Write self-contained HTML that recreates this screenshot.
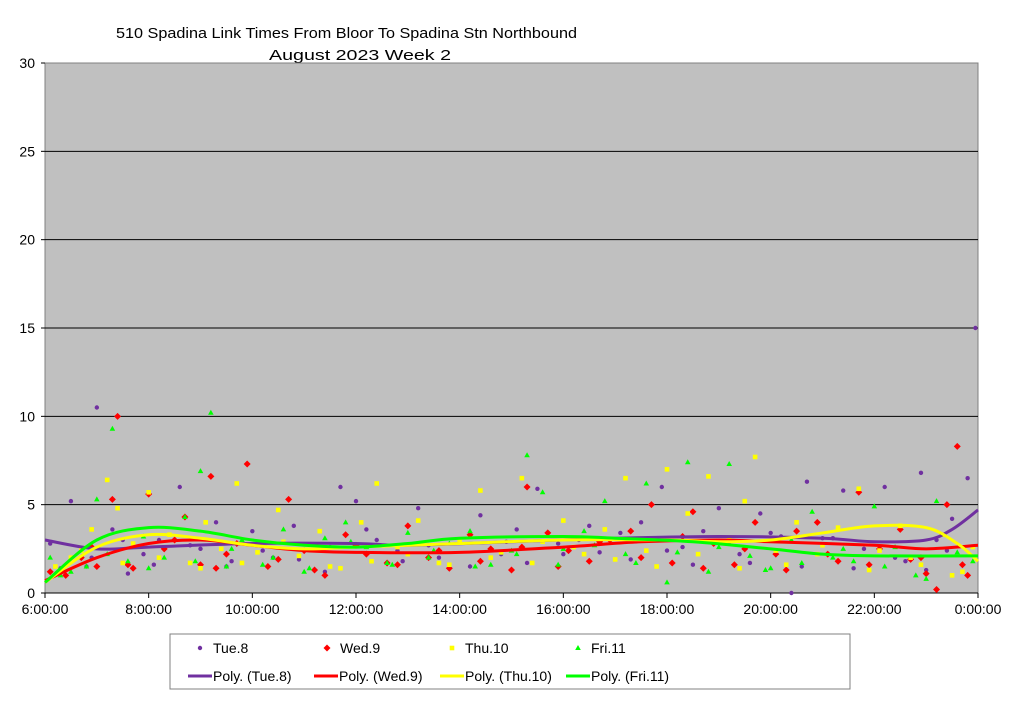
<!DOCTYPE html>
<html><head><meta charset="utf-8"><style>
body{margin:0;background:#fff;width:1024px;height:703px;overflow:hidden;font-family:"Liberation Sans",sans-serif}
svg{display:block}
</style></head><body>
<svg id="chart" width="1024" height="703" viewBox="0 0 1024 703">
<rect x="0" y="0" width="1024" height="703" fill="#fff"/>
<text x="116" y="38" font-size="15" textLength="461" lengthAdjust="spacingAndGlyphs" font-family="Liberation Sans,sans-serif">510 Spadina Link Times From Bloor To Spadina Stn Northbound</text>
<text x="269" y="60" font-size="15" textLength="182" lengthAdjust="spacingAndGlyphs" font-family="Liberation Sans,sans-serif">August 2023  Week 2</text>
<rect x="45" y="63" width="933" height="530" fill="#c0c0c0" stroke="#808080"/>
<g id="grid"></g><g id="axes"></g><g id="points"></g><g id="trends"></g>
<g>
<rect x="170" y="634" width="680" height="55" fill="#fff" stroke="#808080"/>
</g>
<g id="legend"></g>
</svg>
<script>
const yTicks=[0,5,10,15,20,25,30];
const xTicks=[6,8,10,12,14,16,18,20,22,24];
const xTickLabels=["6:00:00","8:00:00","10:00:00","12:00:00","14:00:00","16:00:00","18:00:00","20:00:00","22:00:00","0:00:00"];
const tueT=[6.1,6.5,6.8,7.0,7.3,7.6,7.9,8.2,8.6,9.0,9.3,9.6,10.0,10.4,10.8,11.2,11.5,11.7,12.0,12.4,12.8,13.2,13.6,14.0,14.4,14.8,15.1,15.5,15.9,16.3,16.7,17.1,17.5,17.9,18.3,18.7,19.0,19.4,19.8,20.2,20.4,20.7,21.0,21.4,21.8,22.2,22.6,22.9,23.2,23.5,23.8,23.95,
6.3,6.9,7.5,8.1,8.8,9.5,10.2,10.9,11.4,12.2,12.9,13.4,14.2,14.9,15.3,16.0,16.5,17.3,18.0,18.5,19.2,19.6,20.0,20.6,21.2,21.6,22.4,23.0,23.4];
const tueV=[2.8,5.2,1.5,10.5,3.6,1.1,2.2,3.0,6.0,2.5,4.0,1.8,3.5,2.0,3.8,1.3,2.6,6.0,5.2,3.0,2.4,4.8,2.0,3.0,4.4,2.2,3.6,5.9,2.8,3.0,2.3,3.4,4.0,6.0,2.6,3.5,4.8,2.2,4.5,3.2,0.0,6.3,3.1,5.8,2.5,6.0,1.8,6.8,3.0,4.2,6.5,15.0,
1.4,2.0,3.0,1.6,2.7,1.5,2.4,1.9,1.2,3.6,1.8,2.7,1.5,2.9,1.7,2.2,3.8,1.9,2.4,1.6,2.9,1.7,3.4,1.5,3.1,1.4,2.0,1.3,2.4];
const wedT=[6.1,6.4,6.7,7.0,7.3,7.4,7.7,8.0,8.3,8.7,9.0,9.2,9.5,9.9,10.3,10.7,11.0,11.4,11.8,12.2,12.6,13.0,13.4,13.8,14.2,14.6,15.0,15.3,15.7,16.1,16.5,16.9,17.3,17.7,18.1,18.5,18.9,19.3,19.7,20.1,20.5,20.9,21.3,21.7,22.1,22.5,22.9,23.2,23.4,23.6,23.8,
6.9,7.6,8.5,9.3,9.7,10.5,11.2,12.0,12.8,13.6,14.4,15.2,15.9,16.7,17.5,18.3,18.7,19.5,20.3,21.1,21.9,22.7,23.0,23.7];
const wedV=[1.2,1.0,2.0,1.5,5.3,10.0,1.4,5.6,2.5,4.3,1.6,6.6,2.2,7.3,1.5,5.3,2.4,1.0,3.3,2.2,1.7,3.8,2.0,1.4,3.3,2.5,1.3,6.0,3.4,2.4,1.8,3.0,3.5,5.0,1.7,4.6,2.8,1.6,4.0,2.2,3.5,4.0,1.8,5.7,2.5,3.6,2.0,0.2,5.0,8.3,1.0,
2.6,1.6,3.0,1.4,2.8,1.9,1.3,2.7,1.6,2.4,1.8,2.6,1.5,2.9,2.0,3.2,1.4,2.5,1.3,2.2,1.6,1.9,1.1,1.6];
const thuT=[6.2,6.5,6.9,7.2,7.4,7.7,8.0,8.4,8.8,9.1,9.4,9.7,10.1,10.5,10.9,11.3,11.7,12.1,12.4,12.8,13.2,13.6,14.0,14.4,14.8,15.2,15.6,16.0,16.4,16.8,17.2,17.6,18.0,18.4,18.8,19.2,19.5,19.7,20.1,20.5,20.9,21.3,21.7,22.1,22.5,22.9,23.3,23.7,23.9,
6.7,7.5,8.2,9.0,9.8,10.6,11.5,12.3,13.0,13.8,14.6,15.4,16.2,17.0,17.8,18.6,19.4,20.3,21.0,21.9,22.7,23.5];
const thuV=[1.5,2.0,3.6,6.4,4.8,2.8,5.7,3.3,1.7,4.0,2.5,6.2,2.3,4.7,2.1,3.5,1.4,4.0,6.2,2.6,4.1,1.7,3.0,5.8,2.3,6.5,2.9,4.1,2.2,3.6,6.5,2.4,7.0,4.5,6.6,3.0,5.2,7.7,2.4,4.0,2.2,3.7,5.9,2.4,3.8,1.6,3.3,1.2,2.6,
2.4,1.7,2.0,1.4,1.7,2.9,1.5,1.8,2.2,1.6,2.0,1.7,2.6,1.9,1.5,2.2,1.4,1.6,2.7,1.3,2.0,1.0];
const friT=[6.1,6.5,6.8,7.0,7.3,7.6,7.9,8.3,8.7,9.0,9.2,9.5,9.8,10.2,10.6,11.0,11.4,11.8,12.2,12.6,13.0,13.4,13.8,14.2,14.6,15.0,15.3,15.6,16.0,16.4,16.8,17.2,17.6,18.0,18.4,18.8,19.2,19.6,20.0,20.4,20.8,21.2,21.6,22.0,22.4,22.8,23.2,23.6,23.9,
6.3,7.2,8.0,8.9,9.6,10.4,11.1,11.9,12.7,13.5,14.3,15.1,15.9,16.6,17.4,18.2,19.0,19.9,20.6,21.4,22.2,23.0];
const friV=[2.0,1.2,1.5,5.3,9.3,1.8,3.2,2.0,4.3,6.9,10.2,1.5,3.0,1.6,3.6,1.2,3.1,4.0,2.6,1.7,3.4,2.0,2.8,3.5,1.6,2.4,7.8,5.7,2.5,3.5,5.2,2.2,6.2,0.6,7.4,1.2,7.3,2.1,1.4,3.0,4.6,2.0,1.8,4.9,2.6,1.0,5.2,2.3,1.8,
1.0,2.2,1.4,1.8,2.5,2.0,1.4,2.9,1.6,2.4,1.5,2.2,1.6,2.7,1.7,2.3,2.6,1.3,1.7,2.5,1.5,0.8];
const tueTrendT=[6,7,8,10,12,13,15,17,19,21,22,23,23.5,24];
const tueTrendV=[3.0,2.5,2.6,2.8,2.8,2.7,2.9,3.1,3.2,3.1,2.9,3.0,3.6,4.7];
const wedTrendT=[6,7,8,9,10,11,12,14,16,17.5,19,20,22,23,24];
const wedTrendV=[0.7,2.0,2.8,3.0,2.7,2.4,2.3,2.3,2.6,2.9,3.0,2.9,2.7,2.5,2.7];
const thuTrendT=[6,7,8,9,10,11,12,14,16,18,19,20,21,22,23,23.6,24];
const thuTrendV=[0.6,2.6,3.3,3.1,2.7,2.5,2.6,2.8,3.0,3.0,2.9,3.0,3.4,3.8,3.7,2.8,1.8];
const friTrendT=[6,7,8,9,10,11,12,13,14,16,17,18.5,20,21,22,24];
const friTrendV=[0.6,3.0,3.7,3.5,3.0,2.7,2.6,2.8,3.1,3.2,3.1,2.9,2.5,2.2,2.1,2.1];

const NS="http://www.w3.org/2000/svg";
const X0=45,X1=978,Y0=593,Y1=63;
function xs(h){return X0+(h-6)/18*(X1-X0);}
function ys(v){return Y0-v/30*(Y0-Y1);}
function mk(tag,attrs,parent){const e=document.createElementNS(NS,tag);for(const k in attrs)e.setAttribute(k,attrs[k]);parent.appendChild(e);return e;}
const grid=document.getElementById('grid'),axes=document.getElementById('axes');
yTicks.forEach(v=>{
  if(v>0&&v<30){const l=mk('line',{x1:X0,x2:X1,y1:ys(v),y2:ys(v),stroke:'#000','stroke-width':1},grid);
  
  }
  const t=mk('text',{x:X0-10,y:ys(v)+5,'font-size':14,'text-anchor':'end'},axes);t.textContent=v;
  
  
  mk('line',{x1:X0-4,x2:X0,y1:ys(v),y2:ys(v),stroke:'#000'},axes);
});
xTicks.forEach((h,i)=>{
  mk('line',{x1:xs(h),x2:xs(h),y1:Y0,y2:Y0+5,stroke:'#000'},axes);
  const t=mk('text',{x:xs(h),y:Y0+21,'font-size':14,'text-anchor':'middle'},axes);t.textContent=xTickLabels[i];
  
  
});
mk('line',{x1:X0,x2:X1,y1:Y0,y2:Y0,stroke:'#000'},axes);
const pts=document.getElementById('points');
function marker(kind,x,y,parent){
  if(kind==='circle')return mk('circle',{cx:x,cy:y,r:2.2,fill:'#7030a0'},parent);
  if(kind==='diamond')return mk('polygon',{points:`${x},${y-3.5} ${x+3.5},${y} ${x},${y+3.5} ${x-3.5},${y}`,fill:'#ff0000'},parent);
  if(kind==='square')return mk('rect',{x:x-2.3,y:y-2.3,width:4.6,height:4.6,fill:'#ffff00'},parent);
  return mk('polygon',{points:`${x},${y-3} ${x+2.8},${y+2} ${x-2.8},${y+2}`,fill:'#00ff00'},parent);
}
const series=[[tueT,tueV,'circle','tue'],[wedT,wedV,'diamond','wed'],[thuT,thuV,'square','thu'],[friT,friV,'triangle','fri']];
series.forEach(([T,V,k,n])=>{T.forEach((t,i)=>{const m=marker(k,xs(t),ys(V[i]),pts);
  
  });});
function smooth(T,V){const p=T.map((t,i)=>[xs(t),ys(V[i])]);let d=`M${p[0][0]},${p[0][1]}`;
  for(let i=0;i<p.length-1;i++){const p0=p[i-1]||p[i],p1=p[i],p2=p[i+1],p3=p[i+2]||p2;
  d+=` C${p1[0]+(p2[0]-p0[0])/6},${p1[1]+(p2[1]-p0[1])/6} ${p2[0]-(p3[0]-p1[0])/6},${p2[1]-(p3[1]-p1[1])/6} ${p2[0]},${p2[1]}`;}return d;}
const tr=document.getElementById('trends');
[[tueTrendT,tueTrendV,'#7030a0','tue'],[wedTrendT,wedTrendV,'#ff0000','wed'],[thuTrendT,thuTrendV,'#ffff00','thu'],[friTrendT,friTrendV,'#00ff00','fri']].forEach(([T,V,c,n])=>{
  const p=mk('path',{d:smooth(T,V),fill:'none',stroke:c,'stroke-width':3},tr);
  
  
});
const lg=document.getElementById('legend');
const names=['Tue.8','Wed.9','Thu.10','Fri.11'];
const colors=['#7030a0','#ff0000','#ffff00','#00ff00'];
const kinds=['circle','diamond','square','triangle'];
const markX=[200,327,452,578];
const lineX=[188,314,440,566];
names.forEach((n,i)=>{
  marker(kinds[i],markX[i],648,lg);
  const t=mk('text',{x:markX[i]+13,y:653,'font-size':14},lg);t.textContent=n;
  
  
  mk('line',{x1:lineX[i],x2:lineX[i]+24,y1:676,y2:676,stroke:colors[i],'stroke-width':3},lg);
  const t2=mk('text',{x:lineX[i]+25,y:681,'font-size':14},lg);t2.textContent='Poly. ('+n+')';
  
  
});
</script>
</body></html>
